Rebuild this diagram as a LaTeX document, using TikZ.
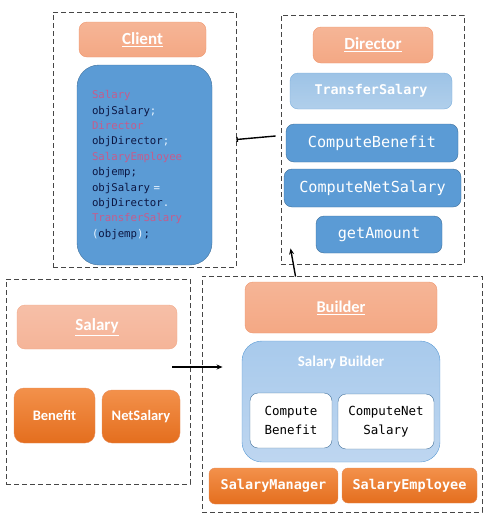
\documentclass[tikz,border=0pt]{standalone}
\usepackage{fontspec}
\setmainfont{Carlito}
\setmonofont{DejaVu Sans Mono}
\usetikzlibrary{arrows.meta}

\definecolor{grpgray}{RGB}{70,70,70}
\definecolor{salmon}{RGB}{244,168,132}
\definecolor{salmonlt}{RGB}{245,180,152}
\definecolor{salmonedge}{RGB}{238,150,110}
\definecolor{orangetop}{RGB}{243,145,75}
\definecolor{orangebot}{RGB}{228,110,30}
\definecolor{orangeedge}{RGB}{230,140,90}
\definecolor{bluebox}{RGB}{91,155,213}
\definecolor{blueedge}{RGB}{65,113,156}
\definecolor{bluelt}{RGB}{157,195,230}
\definecolor{bluelttop}{RGB}{168,202,236}
\definecolor{blueltbot}{RGB}{190,214,240}
\definecolor{codekw}{RGB}{198,92,140}
\definecolor{codeid}{RGB}{12,22,66}
\definecolor{codepun}{RGB}{232,244,255}

\tikzset{
  group/.style={draw=grpgray, dash pattern=on 5pt off 3pt, line width=0.9pt, inner sep=0pt},
  box/.style={inner sep=0pt, outer sep=0pt, rounded corners=8pt, align=center},
  titlebox/.style={box, draw=salmonedge, top color=salmon!85!white, bottom color=salmon, text=white, font=\fontsize{17}{20}\selectfont\bfseries},
  orangebox/.style={box, rounded corners=10pt, draw=orangeedge, top color=orangetop, bottom color=orangebot, text=white},
  bluebox/.style={box, draw=blueedge, fill=bluebox, text=white, font=\ttfamily\fontsize{15.2}{18}\selectfont},
  whitebox/.style={box, draw=blueedge, fill=white, text=black, font=\ttfamily\fontsize{12.5}{18.5}\selectfont},
  link/.style={line width=1.4pt, -{Stealth[length=6pt,width=5pt]}},
}

\begin{document}
\begin{tikzpicture}[x=1pt,y=-1pt]
\useasboundingbox (0,0) rectangle (492,520);

% dashed groups
\node[group, minimum width=183, minimum height=255] (clientgrp) at (144.5,139.5) {};
\node[group, minimum width=183, minimum height=249] (dirgrp) at (372.5,139.5) {};
\node[group, minimum width=184, minimum height=205] (salgrp) at (98,381.5) {};
\node[group, minimum width=280, minimum height=236] (bldgrp) at (342,394) {};

% client
\node[titlebox, minimum width=127, minimum height=35] (client) at (142.5,39.5) {\underline{Client}};
\node[box, rounded corners=22pt, draw=blueedge, fill=bluebox, text=codeid, minimum width=135, minimum height=200,
      text width=105, inner xsep=15pt, align=left, font=\ttfamily\fontsize{10.7}{15.4}\selectfont] (code) at (144.5,165)
  {\textcolor{codekw}{Salary}\\
   objSalary\textcolor{codepun}{;}\\
   \textcolor{codekw}{Director}\\
   objDirector\textcolor{codepun}{;}\\
   \textcolor{codekw}{SalaryEmployee}\\
   objemp;\\
   objSalary \textcolor{codepun}{=}\\
   objDirector\textcolor{codepun}{.}\\
   \textcolor{codekw}{TransferSalary}\\
   \textcolor{codepun}{(}objemp\textcolor{codepun}{)};};

% director
\node[titlebox, minimum width=120, minimum height=36] (director) at (373,45) {\underline{Director}};
\node[box, draw=bluebox!80!white, top color=bluelt, bottom color=bluelt!80!white, text=white,
      font=\ttfamily\bfseries\fontsize{13.4}{16}\selectfont, minimum width=162, minimum height=36] (transfer) at (371,91) {TransferSalary};
\node[bluebox, minimum width=172, minimum height=38] (cbenefit) at (372,143) {ComputeBenefit};
\node[bluebox, minimum width=177, minimum height=38] (cnetsal) at (372.5,188) {ComputeNetSalary};
\node[bluebox, minimum width=126, minimum height=37] (getamt) at (379,234.5) {getAmount};

% salary
\node[titlebox, top color=salmonlt!85!white, bottom color=salmonlt, draw=salmonedge!80!white,
      minimum width=160, minimum height=44] (salary) at (97,327) {\underline{Salary}};
\node[orangebox, font=\fontsize{14.5}{17}\selectfont\bfseries, minimum width=81, minimum height=55] (benefit) at (54.5,415.5) {Benefit};
\node[orangebox, font=\fontsize{14.5}{17}\selectfont\bfseries, minimum width=78, minimum height=53] (netsal) at (141,416.5) {NetSalary};

% builder
\node[titlebox, font=\fontsize{16.4}{20}\selectfont\bfseries, minimum width=192, minimum height=51] (builder) at (341,307.5) {\underline{Builder}};
\node[box, rounded corners=20pt, draw=bluebox, top color=bluelttop, bottom color=blueltbot,
      minimum width=198, minimum height=121] (sbuild) at (341,401.5) {};
\node[text=white, font=\fontsize{15}{18}\selectfont\bfseries] (sbtitle) at (341,362) {Salary Builder};
\node[whitebox, minimum width=82, minimum height=55] (cbox1) at (291,420.5) {Compute\\Benefit};
\node[whitebox, minimum width=96, minimum height=55] (cbox2) at (386,421.5) {ComputeNet\\Salary};
\node[orangebox, rounded corners=6pt, font=\ttfamily\bfseries\fontsize{13.5}{16}\selectfont, minimum width=129, minimum height=36] (smanager) at (273.5,486) {SalaryManager};
\node[orangebox, rounded corners=6pt, font=\ttfamily\bfseries\fontsize{13.5}{16}\selectfont, minimum width=135, minimum height=35] (semployee) at (409.5,485.5) {SalaryEmployee};

% connectors
\draw[line width=1.4pt, {Bar[width=5pt]}-] (clientgrp.east) -- ([xshift=-5pt,yshift=3.5pt]dirgrp.west);
\draw[link] ([xshift=-18pt,yshift=14.5pt]salgrp.east) -- ([xshift=21pt,yshift=27pt]bldgrp.west);
\draw[link] ([xshift=94pt,yshift=-1pt]bldgrp.north west) -- ([xshift=10pt,yshift=16pt]dirgrp.south west);
\end{tikzpicture}
\end{document}
